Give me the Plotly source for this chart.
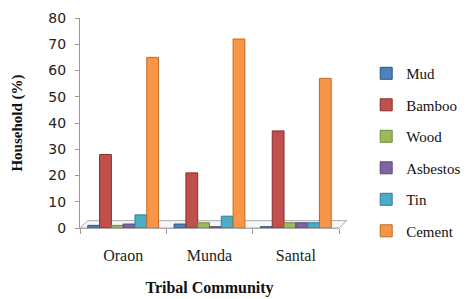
import plotly.graph_objects as go

categories = ["Oraon", "Munda", "Santal"]
series_names = ["Mud", "Bamboo", "Wood", "Asbestos", "Tin", "Cement"]
mud = [1.0, 1.5, 0.5]
bamboo = [28, 21, 37]
wood = [1.0, 2.0, 2.0]
asbestos = [1.5, 0.5, 2.0]
tin = [5.0, 4.5, 2.0]
cement = [65, 72, 57]
y_ticks = [0, 10, 20, 30, 40, 50, 60, 70, 80]

values = [mud, bamboo, wood, asbestos, tin, cement]
colors = ["#4F81BD", "#C0504D", "#9BBB59", "#8064A2", "#4BACC6", "#F79646"]
edges = ["#2C5585", "#8B2E2B", "#6E8A3A", "#5A4478", "#2E7F95", "#C06A20"]

fig = go.Figure()
for name, vals, c, e in zip(series_names, values, colors, edges):
    fig.add_trace(go.Bar(
        x=categories, y=vals, name=name, legendgroup=name,
        marker=dict(color=c, line=dict(color=e, width=1)),
    ))

serif = "Liberation Serif"
fig.update_layout(
    width=470, height=299,
    margin=dict(l=80, r=131, t=18, b=71, autoexpand=False),
    paper_bgcolor="white", plot_bgcolor="white",
    barmode="group", bargap=0.18, bargroupgap=0.0,
    showlegend=True,
    legend=dict(
        x=1.105, y=0.814, xanchor="left", yanchor="top",
        font=dict(family=serif, size=15, color="#111"),
        tracegroupgap=9, bgcolor="rgba(0,0,0,0)",
    ),
    font=dict(family=serif, color="#111"),
)
fig.update_yaxes(
    range=[0, 80], tickvals=y_ticks, showgrid=False, zeroline=False,
    showline=True, linecolor="#999", linewidth=1,
    ticks="outside", ticklen=4, tickcolor="#999",
    ticklabelstandoff=6,
    tickfont=dict(family="DejaVu Sans", size=14, color="#222"),
    title=dict(text="<b>Household (%)</b>", font=dict(family=serif, size=15), standoff=22),
)
fig.update_xaxes(
    showgrid=False, showline=True, linecolor="#aaa", linewidth=1,
    ticks="outside", tickson="boundaries", ticklen=5, tickcolor="#999",
    ticklabelstandoff=13,
    tickfont=dict(family=serif, size=16, color="#222"),
    title=dict(text="<b>Tribal Community</b>", font=dict(family=serif, size=16), standoff=18),
)
# 3D-style floor
fig.add_shape(type="path", xref="paper", yref="paper",
              path="M 0 0 L 0.03 0.035 L 1.03 0.035 L 1.0 0 Z",
              line=dict(color="#aaa", width=1), fillcolor="rgba(240,240,240,0.6)", layer="below")

fig.write_html("out.html", config={"displayModeBar": False},
               post_script="document.body.style.margin='0';")
